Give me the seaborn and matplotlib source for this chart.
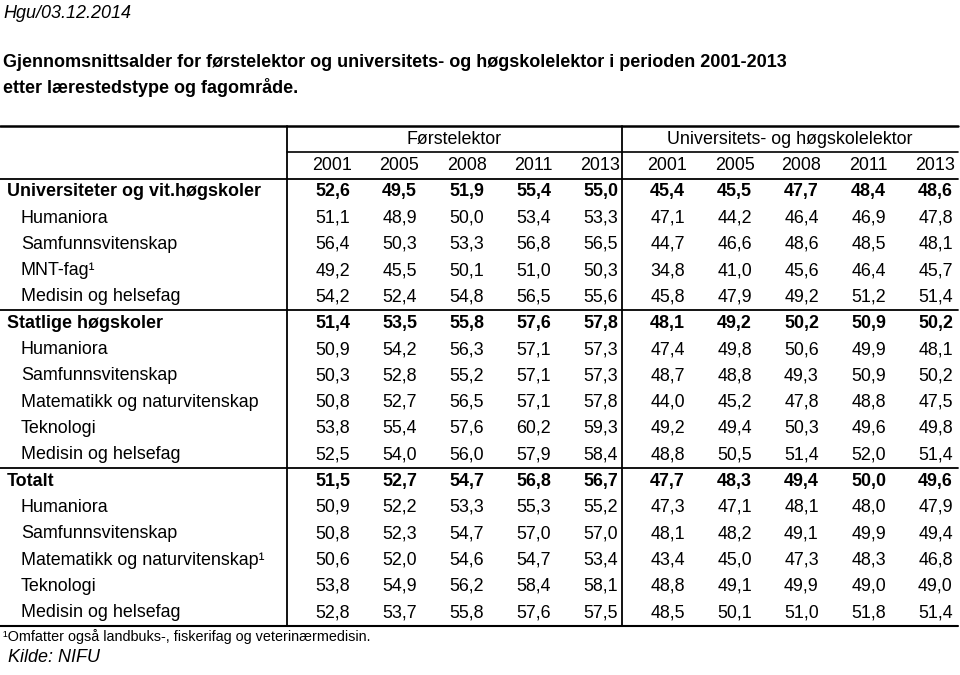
import numpy as np
import pandas as pd
import seaborn as sns
import matplotlib.pyplot as plt
from matplotlib.colors import ListedColormap

years = [2001, 2005, 2008, 2011, 2013]
stillinger = ['Førstelektor', 'Universitets- og høgskolelektor']

rader = ['Universiteter og vit.høgskoler', 'Humaniora', 'Samfunnsvitenskap',
         'MNT-fag\u00b9', 'Medisin og helsefag',
         'Statlige høgskoler', 'Humaniora', 'Samfunnsvitenskap',
         'Matematikk og naturvitenskap', 'Teknologi', 'Medisin og helsefag',
         'Totalt', 'Humaniora', 'Samfunnsvitenskap',
         'Matematikk og naturvitenskap\u00b9', 'Teknologi', 'Medisin og helsefag']
sumrader = ['Universiteter og vit.høgskoler', 'Statlige høgskoler', 'Totalt']

forstelektor = [[52.6, 49.5, 51.9, 55.4, 55.0],
                [51.1, 48.9, 50.0, 53.4, 53.3],
                [56.4, 50.3, 53.3, 56.8, 56.5],
                [49.2, 45.5, 50.1, 51.0, 50.3],
                [54.2, 52.4, 54.8, 56.5, 55.6],
                [51.4, 53.5, 55.8, 57.6, 57.8],
                [50.9, 54.2, 56.3, 57.1, 57.3],
                [50.3, 52.8, 55.2, 57.1, 57.3],
                [50.8, 52.7, 56.5, 57.1, 57.8],
                [53.8, 55.4, 57.6, 60.2, 59.3],
                [52.5, 54.0, 56.0, 57.9, 58.4],
                [51.5, 52.7, 54.7, 56.8, 56.7],
                [50.9, 52.2, 53.3, 55.3, 55.2],
                [50.8, 52.3, 54.7, 57.0, 57.0],
                [50.6, 52.0, 54.6, 54.7, 53.4],
                [53.8, 54.9, 56.2, 58.4, 58.1],
                [52.8, 53.7, 55.8, 57.6, 57.5]]

ul_lektor = [[45.4, 45.5, 47.7, 48.4, 48.6],
             [47.1, 44.2, 46.4, 46.9, 47.8],
             [44.7, 46.6, 48.6, 48.5, 48.1],
             [34.8, 41.0, 45.6, 46.4, 45.7],
             [45.8, 47.9, 49.2, 51.2, 51.4],
             [48.1, 49.2, 50.2, 50.9, 50.2],
             [47.4, 49.8, 50.6, 49.9, 48.1],
             [48.7, 48.8, 49.3, 50.9, 50.2],
             [44.0, 45.2, 47.8, 48.8, 47.5],
             [49.2, 49.4, 50.3, 49.6, 49.8],
             [48.8, 50.5, 51.4, 52.0, 51.4],
             [47.7, 48.3, 49.4, 50.0, 49.6],
             [47.3, 47.1, 48.1, 48.0, 47.9],
             [48.1, 48.2, 49.1, 49.9, 49.4],
             [43.4, 45.0, 47.3, 48.3, 46.8],
             [48.8, 49.1, 49.9, 49.0, 49.0],
             [48.5, 50.1, 51.0, 51.8, 51.4]]

sns.set_theme(style='white')
plt.rcParams['font.family'] = ['Liberation Sans', 'DejaVu Sans']
plt.rcParams['text.color'] = 'black'

df = pd.DataFrame(np.hstack([forstelektor, ul_lektor]), index=rader,
                  columns=pd.MultiIndex.from_product([stillinger, years]))
annot = df.map(lambda v: f'{v:.1f}'.replace('.', ','))

fs = 12.9


# pixel -> cell coordinates
def xp(px):
    return (px - 299) / 67


def yp(py):
    return (py - 178.55) / 26.31


fig = plt.figure(figsize=(9.6, 6.75), dpi=100)
ax = fig.add_axes([0, 0, 1, 1])
sns.heatmap(df, annot=annot.values, fmt='', cmap=ListedColormap(['white']),
            cbar=False, xticklabels=False, yticklabels=False, ax=ax,
            annot_kws={'fontsize': fs, 'color': 'black'})
ax.set_xlim(xp(0), xp(960))
ax.set_ylim(yp(675), yp(0))
ax.axis('off')

# bold sum rows
for t in ax.texts:
    r = int(t.get_position()[1])
    if rader[r] in sumrader:
        t.set_fontweight('bold')

# row labels
for i, lab in enumerate(rader):
    if lab in sumrader:
        ax.text(xp(7), i + 0.5, lab, ha='left', va='center', fontsize=fs, fontweight='bold')
    else:
        ax.text(xp(21), i + 0.5, lab, ha='left', va='center', fontsize=fs)

# headers
ax.text((xp(287) + xp(622)) / 2, -1.5, stillinger[0], ha='center', va='center', fontsize=fs)
ax.text((xp(622) + xp(958)) / 2, -1.5, stillinger[1], ha='center', va='center', fontsize=fs)
for j, yr in enumerate(years + years):
    ax.text(j + 0.5, -0.5, str(yr), ha='center', va='center', fontsize=fs)

# lines
lc = 'black'
ax.plot([xp(0), xp(958)], [-2, -2], color=lc, lw=1.8)
ax.plot([xp(287), xp(958)], [-1, -1], color=lc, lw=1.2)
for yy in [0, 5, 11]:
    ax.plot([xp(0), xp(958)], [yy, yy], color=lc, lw=1.3)
ax.plot([xp(0), xp(958)], [17, 17], color=lc, lw=1.5)
for xx in [287, 622]:
    ax.plot([xp(xx), xp(xx)], [-2, 17], color=lc, lw=1.3)

# titles and notes
ax.text(xp(3), yp(13), 'Hgu/03.12.2014', ha='left', va='center', fontsize=13, style='italic')
ax.text(xp(3), yp(62), 'Gjennomsnittsalder for førstelektor og universitets- og høgskolelektor i perioden 2001-2013',
        ha='left', va='center', fontsize=13, fontweight='bold')
ax.text(xp(3), yp(87), 'etter lærestedstype og fagområde.', ha='left', va='center', fontsize=13, fontweight='bold')
ax.text(xp(3), yp(637), '\u00b9Omfatter også landbuks-, fiskerifag og veterinærmedisin.',
        ha='left', va='center', fontsize=10.4)
ax.text(xp(8), yp(658), 'Kilde: NIFU', ha='left', va='center', fontsize=13, style='italic')

fig.savefig('out.png', dpi=100)
